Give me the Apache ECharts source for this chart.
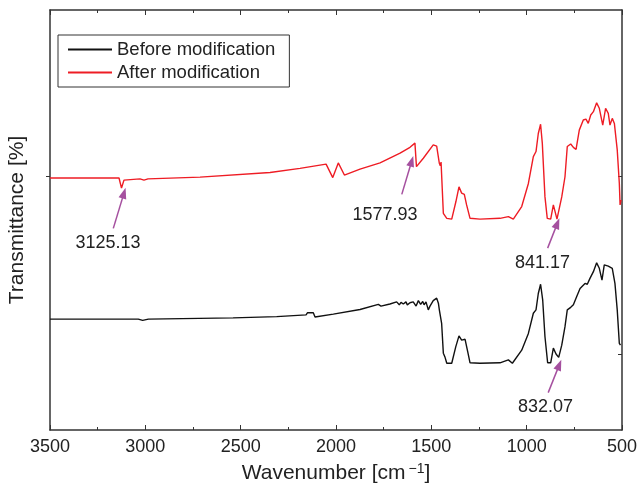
<!DOCTYPE html>
<html>
<head>
<meta charset="utf-8">
<script src="https://cdn.jsdelivr.net/npm/echarts@6/dist/echarts.min.js"></script>
<style>
  html, body { margin: 0; padding: 0; background: #fff; }
  #chart { width: 637px; height: 490px; }
</style>
</head>
<body>
<div id="chart"></div>
<script>
// wavenumbers (cm-1) and transmittance (arbitrary, offset)
const afterWn = [3500, 3138, 3125, 3112, 3028, 3007, 2986, 2713, 2346, 2189, 2052, 2017, 1988, 1956, 1874, 1769, 1664, 1612, 1586, 1578,
  1542, 1490, 1472, 1458, 1453, 1449, 1437, 1419, 1393, 1371, 1355, 1341, 1327, 1315, 1297, 1245, 1140, 1096, 1070, 1026,
  991, 965, 951, 939, 927, 918, 904, 892, 874, 860, 841, 834, 816, 799, 787, 769, 755, 741, 724, 703,
  689, 677, 664, 650, 633, 619, 601, 586, 572, 563, 551, 540, 525, 514, 510, 505]
const afterT = [60.0, 60.0, 57.6, 59.5, 59.8, 59.5, 59.8, 60.2, 61.3, 62.3, 63.3, 60.1, 63.6, 60.7, 62.1, 63.6, 65.9, 67.3, 68.3, 62.7,
  64.7, 67.9, 67.6, 63.5, 62.9, 63.8, 51.6, 50.4, 50.2, 54.4, 57.9, 56.4, 56.1, 53.6, 50.4, 50.2, 50.4, 50.8, 50.2, 53.2,
  58.7, 65.1, 66.3, 70.6, 72.8, 68.3, 55.5, 50.4, 50.2, 53.6, 50.2, 50.4, 55.5, 60.3, 67.5, 68.1, 67.3, 66.8, 71.4, 73.8,
  74.0, 73.0, 75.0, 75.8, 77.9, 76.6, 72.6, 76.6, 75.4, 72.6, 74.2, 73.0, 66.7, 58.7, 53.6, 54.8]

const beforeWn = [3500, 3037, 3014, 2984, 2540, 2311, 2157, 2150, 2119, 2110, 2014, 1874, 1778, 1764, 1717, 1682, 1668, 1659, 1647, 1633,
  1626, 1612, 1595, 1580, 1568, 1556, 1545, 1538, 1528, 1516, 1507, 1490, 1472, 1463, 1458, 1451, 1446, 1437, 1428, 1419,
  1393, 1372, 1355, 1341, 1323, 1309, 1297, 1245, 1140, 1096, 1075, 1026, 991, 965, 951, 939, 927, 916, 904, 890,
  874, 860, 846, 832, 816, 799, 787, 769, 755, 738, 720, 694, 682, 668, 650, 633, 619, 605, 593, 572,
  551, 537, 525, 514, 508]
const beforeT = [26.4, 26.4, 26.1, 26.4, 26.7, 27.0, 27.4, 27.9, 27.9, 26.9, 27.6, 28.7, 29.9, 29.5, 30.0, 30.5, 29.8, 30.4, 30.0, 30.5,
  29.8, 30.3, 30.5, 29.5, 30.8, 29.9, 30.6, 29.8, 30.5, 28.6, 29.5, 30.8, 31.4, 30.2, 28.6, 28.7, 25.4, 18.3, 17.3, 15.9,
  15.9, 19.8, 22.4, 21.4, 21.6, 18.6, 16.0, 15.9, 16.0, 16.7, 15.9, 19.0, 23.0, 27.8, 28.6, 32.5, 34.7, 31.0, 22.2, 16.0,
  16.0, 19.5, 18.1, 17.3, 20.2, 24.6, 28.6, 29.2, 29.8, 31.7, 33.7, 34.9, 34.7, 36.1, 37.7, 39.8, 38.5, 35.7, 39.3, 39.0,
  38.5, 34.9, 28.6, 20.6, 20.2]

// peak annotations: label, label position, arrow tail, arrow head
const peakLabels = ['3125.13', '1577.93', '841.17', '832.07']
const labelAt = [[3196, 44.5], [1743, 51.2], [917, 39.7], [901, 5.5]]
const arrowFrom = [[3168, 48.0], [1655, 56.1], [890, 43.3], [887, 8.9]]
const arrowTo = [[3112, 56.4], [1603, 64.0], [839, 49.2], [829, 15.5]]

const zip = (a, b) => a.map((v, i) => [v, b[i]])
const arrowColor = '#a5509f'
const axisColor = '#333'
const textColor = '#222'

const chart = echarts.init(document.getElementById('chart'))

const xBase = {
  type: 'value',
  min: 500,
  max: 3500,
  interval: 500,
  inverse: true,
  axisLine: { show: true, onZero: false, lineStyle: { color: axisColor, width: 1.5 } },
  axisTick: { inside: true, length: 5, lineStyle: { color: axisColor } },
  minorTick: { show: true, splitNumber: 2, length: 3, lineStyle: { color: axisColor } },
  splitLine: { show: false }
}
const yBase = {
  type: 'value',
  min: 0,
  max: 100,
  axisLine: { show: true, onZero: false, lineStyle: { color: axisColor, width: 1.5 } },
  axisTick: { show: true, inside: true, length: 4, customValues: [18.1, 60.5], lineStyle: { color: axisColor } },
  axisLabel: { show: false },
  splitLine: { show: false }
}

const peakLabel = { show: true, position: 'inside', fontSize: 18, color: textColor, formatter: p => p.name }
const arrowLine = {
  silent: true,
  symbol: ['none', 'triangle'],
  symbolSize: [8, 11],
  lineStyle: { color: arrowColor, width: 1.5, type: 'solid' },
  label: { show: false }
}

chart.setOption({
  animation: false,
  textStyle: { fontFamily: 'Liberation Sans, Arial, sans-serif' },
  grid: { left: 50, right: 15, top: 10, bottom: 60, outerBoundsMode: 'none', containLabel: false },
  legend: {
    orient: 'vertical',
    left: 58,
    top: 35,
    padding: [5, 14, 5, 10],
    itemGap: 4,
    itemWidth: 44,
    itemHeight: 2,
    icon: 'rect',
    borderColor: '#333',
    borderWidth: 1,
    textStyle: { fontSize: 18.5, color: textColor },
    data: ['Before modification', 'After modification']
  },
  xAxis: [
    Object.assign({}, xBase, {
      position: 'bottom',
      name: 'Wavenumber [cm{sup|−1}]',
      nameLocation: 'middle',
      nameGap: 32,
      nameTextStyle: {
        fontSize: 21, color: textColor,
        rich: { sup: { fontSize: 14, verticalAlign: 'top', padding: [0, 0, 9, 3], color: textColor } }
      },
      axisLabel: { fontSize: 18, color: textColor, margin: 8, formatter: v => String(v) }
    }),
    Object.assign({}, xBase, { position: 'top', axisLabel: { show: false } })
  ],
  yAxis: [
    Object.assign({}, yBase, {
      position: 'left',
      name: 'Transmittance [%]',
      nameLocation: 'middle',
      nameGap: 22,
      nameTextStyle: { fontSize: 21, color: textColor },
      axisTick: { show: true, inside: false, length: 4, customValues: [60.5], lineStyle: { color: axisColor } }
    }),
    Object.assign({}, yBase, { position: 'right' })
  ],
  series: [
    {
      name: 'Before modification',
      type: 'line',
      data: zip(beforeWn, beforeT),
      showSymbol: false,
      color: '#111',
      lineStyle: { width: 1.4, color: '#111' },
      markLine: Object.assign({}, arrowLine, {
        data: [[{ coord: arrowFrom[3] }, { coord: arrowTo[3] }]]
      }),
      markPoint: {
        silent: true,
        symbolSize: 0,
        label: peakLabel,
        data: [{ name: peakLabels[3], coord: labelAt[3] }]
      }
    },
    {
      name: 'After modification',
      type: 'line',
      data: zip(afterWn, afterT),
      showSymbol: false,
      color: '#ee1c24',
      lineStyle: { width: 1.4, color: '#ee1c24' },
      markLine: Object.assign({}, arrowLine, {
        data: [0, 1, 2].map(i => [{ coord: arrowFrom[i] }, { coord: arrowTo[i] }])
      }),
      markPoint: {
        silent: true,
        symbolSize: 0,
        label: peakLabel,
        data: [0, 1, 2].map(i => ({ name: peakLabels[i], coord: labelAt[i] }))
      }
    }
  ]
})
</script>
</body>
</html>
